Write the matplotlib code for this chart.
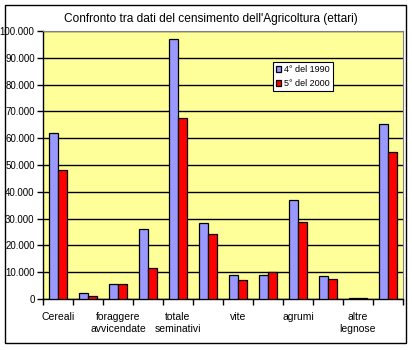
import matplotlib
matplotlib.use("Agg")
import matplotlib.pyplot as plt
from matplotlib.patches import Rectangle
from matplotlib.ticker import FuncFormatter, MultipleLocator
import numpy as np

# etichette visibili sotto l'asse (Excel salta una categoria su due)
etichette = ["Cereali", "", "foraggere\navvicendate", "", "totale\nseminativi", "",
             "vite", "", "agrumi", "", "altre\nlegnose", ""]

# ettari rilevati nei due censimenti
censimento_1990 = [62000, 2400, 5700, 26300, 97100, 28200, 9100, 9100, 36800, 8700, 400, 65300]
censimento_2000 = [48000, 1300, 5700, 11700, 67500, 24100, 7000, 10200, 28600, 7600, 300, 54800]

serie = ["4° del 1990", "5° del 2000"]

plt.rcParams['font.family'] = ['Liberation Sans', 'DejaVu Sans']

fig = plt.figure(figsize=(4.12, 3.5), dpi=100)
fig.patch.set_facecolor("white")

# cornice del grafico
fig.patches.append(Rectangle((5 / 412, 7 / 350), 401 / 412, 338 / 350,
                             transform=fig.transFigure, fill=False,
                             edgecolor="black", linewidth=1.0))

fig.text(211 / 412, 1 - 19 / 350,
         "Confronto tra dati del censimento dell'Agricoltura (ettari)",
         ha="center", va="center", fontsize=8.6)

ax = fig.add_axes([43 / 412, 51 / 350, 360 / 412, 268 / 350])
ax.set_facecolor("#FFFF99")

x = np.arange(len(etichette)) + 0.5
larghezza = 0.29
ax.bar(x - larghezza / 2, censimento_1990, larghezza, color="#9999FF",
       edgecolor="black", linewidth=0.9, label=serie[0], zorder=3)
ax.bar(x + larghezza / 2, censimento_2000, larghezza, color="#FF0000",
       edgecolor="black", linewidth=0.9, label=serie[1], zorder=3)

ax.set_xlim(0, len(etichette))
ax.set_ylim(0, 100000)

# griglia orizzontale nera
ax.yaxis.set_major_locator(MultipleLocator(10000))
ax.yaxis.set_major_formatter(FuncFormatter(
    lambda v, p: "0" if v == 0 else f"{int(v):,}".replace(",", ".")))
ax.grid(axis="y", color="black", linewidth=1.0, zorder=1)
ax.tick_params(axis="y", direction="out", length=4, width=1, labelsize=7, pad=2)

# tacche tra le categorie, etichette centrate sotto ogni gruppo
ax.set_xticks(np.arange(len(etichette) + 1))
ax.set_xticklabels([])
ax.set_xticks(x, minor=True)
ax.set_xticklabels(etichette, minor=True, fontsize=7.5, linespacing=1.35)
ax.tick_params(axis="x", which="major", direction="out", length=4, width=1)
ax.tick_params(axis="x", which="minor", length=0, pad=9)

for lato in ["top", "right"]:
    ax.spines[lato].set_color("#808080")
for lato in ["left", "bottom"]:
    ax.spines[lato].set_color("black")
    ax.spines[lato].set_linewidth(1.0)

leg = ax.legend(loc="upper left", bbox_to_anchor=(0.638, 0.885), fontsize=6.5,
                frameon=True, fancybox=False, handlelength=0.6, handleheight=0.6,
                handletextpad=0.35, borderpad=0.35, labelspacing=0.55,
                borderaxespad=0)
leg.get_frame().set_edgecolor("black")
leg.get_frame().set_linewidth(0.8)
leg.get_frame().set_facecolor("white")
leg.get_frame().set_alpha(1)

fig.savefig("out.png", dpi=100)
